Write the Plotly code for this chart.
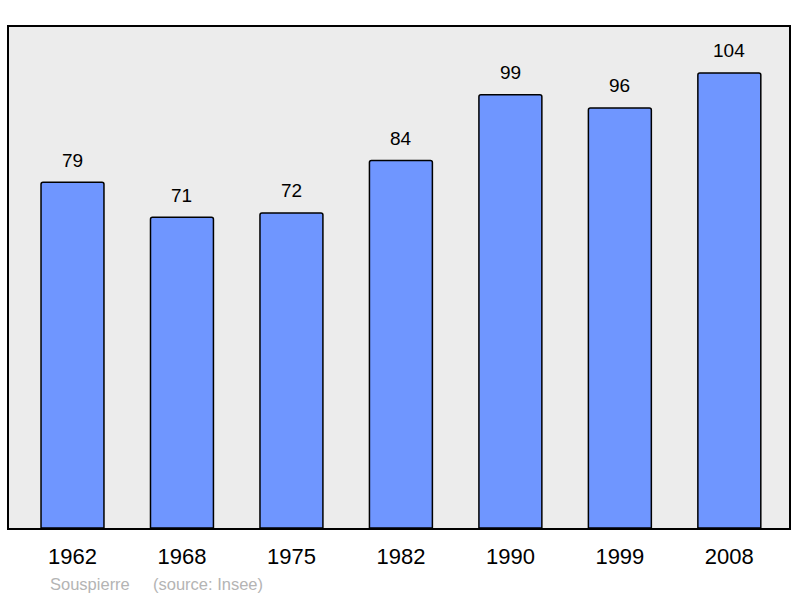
import plotly.graph_objects as go

# population data (Insee)
years = ["1962", "1968", "1975", "1982", "1990", "1999", "2008"]
population = [79, 71, 72, 84, 99, 96, 104]
commune = "Souspierre"
source = "(source: Insee)"

W, H = 800, 598
ML, MR, MT, MB = 9, 9, 27, 70

fig = go.Figure()
fig.add_trace(go.Bar(
    x=years,
    y=population,
    width=0.575,
    marker=dict(color="#6f96ff", line=dict(color="black", width=1.5), cornerradius=2),
    hoverinfo="x+y",
))

# value labels above bars (x given as category index)
for i, val in enumerate(population):
    fig.add_annotation(x=i, y=val, text=str(val), showarrow=False, yshift=22,
                       font=dict(size=19, color="black"))


# helper: pixel position -> paper coords
def px_x(p):
    return (p - ML) / (W - ML - MR)


def px_y(p):
    return (H - MB - p) / (H - MT - MB)


# source note under the chart
fig.add_annotation(x=px_x(48), y=px_y(584), xref="paper", yref="paper", text=commune,
                   showarrow=False, xanchor="left", yanchor="middle",
                   font=dict(size=16.5, color="#b4b4b4"))
fig.add_annotation(x=px_x(151), y=px_y(584), xref="paper", yref="paper", text=source,
                   showarrow=False, xanchor="left", yanchor="middle",
                   font=dict(size=16.5, color="#b4b4b4"))

fig.update_layout(
    width=W, height=H,
    margin=dict(l=ML, r=MR, t=MT, b=MB),
    paper_bgcolor="white",
    plot_bgcolor="#ececec",
    font=dict(family="Liberation Sans, Arial, sans-serif", color="black"),
    showlegend=False,
)
fig.update_xaxes(type="category", range=[-0.58, 6.545], showgrid=False, ticks="",
                 tickfont=dict(size=22), ticklabelstandoff=8,
                 showline=True, linecolor="black", linewidth=2, mirror=True)
fig.update_yaxes(range=[0, 114.5], showgrid=False, showticklabels=False, zeroline=False,
                 showline=True, linecolor="black", linewidth=2, mirror=True)

fig.write_html("out.html", config={"displayModeBar": False},
               post_script="document.body.style.margin='0';")
